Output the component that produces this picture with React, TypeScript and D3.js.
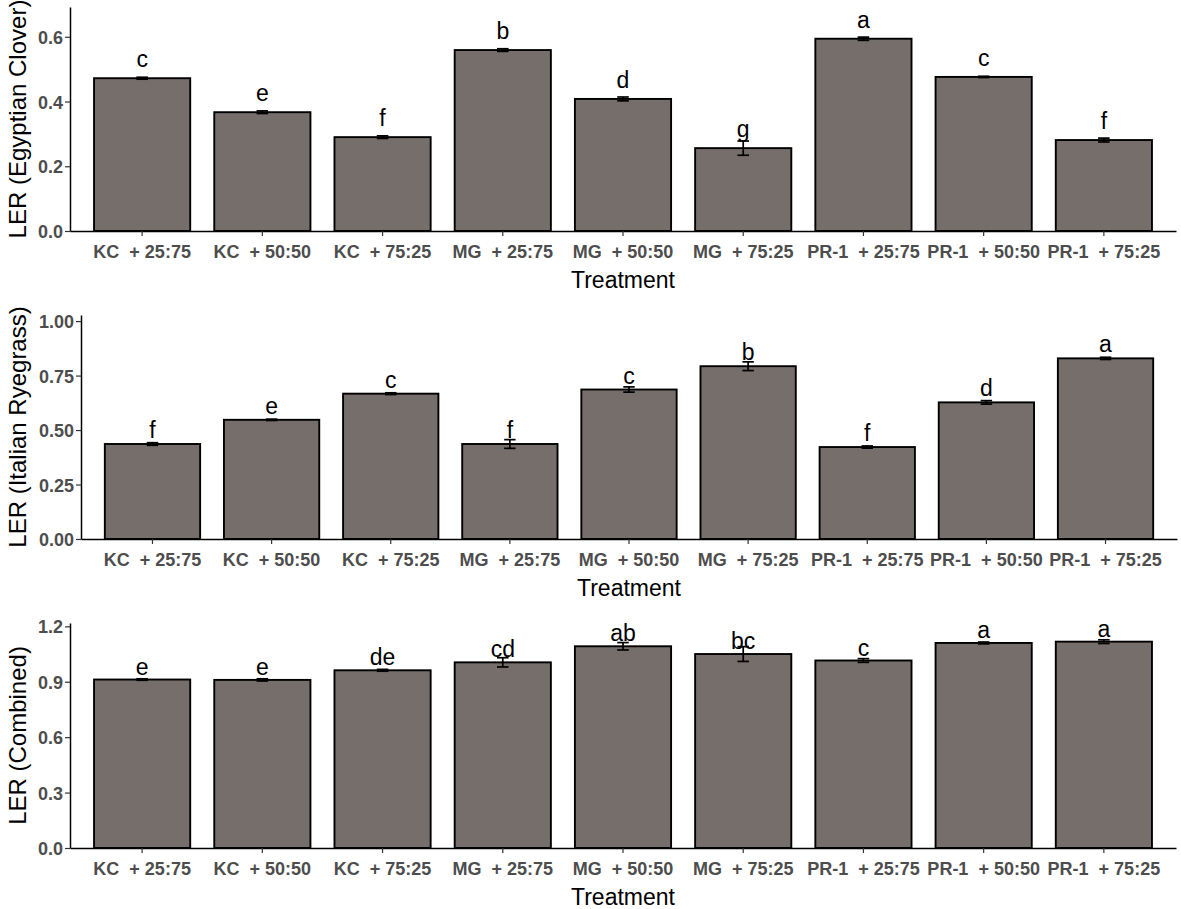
import React, { useEffect, useRef } from 'react';
import * as d3 from 'd3';

// Treatments (two spaces between crop and ratio, as in the original)
const treatments = [
    'KC  + 25:75', 'KC  + 50:50', 'KC  + 75:25',
    'MG  + 25:75', 'MG  + 50:50', 'MG  + 75:25',
    'PR-1  + 25:75', 'PR-1  + 50:50', 'PR-1  + 75:25',
];

// LER Egyptian clover
const clover = [0.472, 0.367, 0.290, 0.559, 0.408, 0.256, 0.594, 0.476, 0.281];
const cloverSe = [0.003, 0.004, 0.004, 0.004, 0.006, 0.022, 0.005, 0.002, 0.006];
const cloverLetters = ['c', 'e', 'f', 'b', 'd', 'g', 'a', 'c', 'f'];
const cloverTicks = [0, 0.2, 0.4, 0.6];

// LER Italian ryegrass
const ryegrass = [0.436, 0.547, 0.667, 0.436, 0.686, 0.793, 0.422, 0.627, 0.829];
const ryegrassSe = [0.006, 0.003, 0.004, 0.02, 0.012, 0.02, 0.005, 0.008, 0.005];
const ryegrassLetters = ['f', 'e', 'c', 'f', 'c', 'b', 'f', 'd', 'a'];
const ryegrassTicks = [0, 0.25, 0.5, 0.75, 1.0];

// LER combined
const combined = [0.912, 0.910, 0.962, 1.005, 1.092, 1.050, 1.015, 1.110, 1.117];
const combinedSe = [0.004, 0.006, 0.005, 0.025, 0.02, 0.04, 0.01, 0.005, 0.01];
const combinedLetters = ['e', 'e', 'de', 'cd', 'ab', 'bc', 'c', 'a', 'a'];
const combinedTicks = [0, 0.3, 0.6, 0.9, 1.2];

interface Panel {
    title: string;
    values: number[];
    se: number[];
    letters: string[];
    ticks: number[];
    fmt: string;
    yMax: number;
    top: number;
    bottom: number;
    left: number;
    right: number;
    labelGap: number;
}

const panels: Panel[] = [
    { title: 'LER (Egyptian Clover)', values: clover, se: cloverSe, letters: cloverLetters, ticks: cloverTicks, fmt: '.1f', yMax: 0.692, top: 7, bottom: 231, left: 70, right: 1176, labelGap: 11 },
    { title: 'LER (Italian Ryegrass)', values: ryegrass, se: ryegrassSe, letters: ryegrassLetters, ticks: ryegrassTicks, fmt: '.2f', yMax: 1.028, top: 315, bottom: 539, left: 81, right: 1177, labelGap: 6 },
    { title: 'LER (Combined)', values: combined, se: combinedSe, letters: combinedLetters, ticks: combinedTicks, fmt: '.1f', yMax: 1.218, top: 623, bottom: 848, left: 70, right: 1176, labelGap: 5 },
];

const FONT = '"Liberation Sans", Arial, sans-serif';

const App: React.FC = () => {
    const ref = useRef<SVGSVGElement>(null);

    useEffect(() => {
        const svg = d3.select(ref.current);
        svg.selectAll('*').remove();

        panels.forEach(p => {
            // ggplot: 0.6 de expansión a cada lado, barras de 0.8
            const x = d3.scaleBand<string>().domain(treatments).range([p.left, p.right]).paddingOuter(0.2).paddingInner(0.2);
            const y = d3.scaleLinear().domain([0, p.yMax]).range([p.bottom, p.top]);
            const bw = x.bandwidth();
            const g = svg.append('g');

            // barras
            g.selectAll('rect.bar')
                .data(p.values)
                .enter().append('rect')
                .attr('x', (_, i) => x(treatments[i]) as number)
                .attr('y', d => y(d))
                .attr('width', bw)
                .attr('height', d => y(0) - y(d))
                .attr('fill', '#766e6a')
                .attr('stroke', '#000')
                .attr('stroke-width', 1.9);

            // barras de error
            const cx = (i: number) => (x(treatments[i]) as number) + bw / 2;
            const ew = bw * 0.12;
            p.values.forEach((v, i) => {
                const lo = y(v - p.se[i]);
                const hi = y(v + p.se[i]);
                const eb = g.append('g').attr('stroke', '#000').attr('stroke-width', 1.7);
                eb.append('line').attr('x1', cx(i)).attr('x2', cx(i)).attr('y1', lo).attr('y2', hi);
                eb.append('line').attr('x1', cx(i) - ew / 2).attr('x2', cx(i) + ew / 2).attr('y1', lo).attr('y2', lo);
                eb.append('line').attr('x1', cx(i) - ew / 2).attr('x2', cx(i) + ew / 2).attr('y1', hi).attr('y2', hi);
            });

            // letras
            g.selectAll('text.letter')
                .data(p.letters)
                .enter().append('text')
                .attr('x', (_, i) => cx(i))
                .attr('y', (_, i) => y(p.values[i]) - p.labelGap)
                .attr('text-anchor', 'middle')
                .attr('font-family', FONT)
                .attr('font-size', 23)
                .attr('fill', '#000')
                .text(d => d);

            // eje X
            const xAxis = g.append('g').attr('transform', `translate(0,${p.bottom})`)
                .call(d3.axisBottom(x).tickSize(5).tickSizeOuter(0));
            xAxis.select('.domain').attr('stroke', '#000').attr('stroke-width', 1.5);
            xAxis.selectAll('.tick line').attr('stroke', '#333').attr('stroke-width', 1.2);
            xAxis.selectAll('.tick text')
                .attr('font-family', FONT)
                .attr('font-size', 18)
                .attr('font-weight', 'bold')
                .attr('fill', '#4d4d4d')
                .attr('dy', 0)
                .attr('y', 27)
                .style('white-space', 'pre');

            // eje Y
            const yAxis = g.append('g').attr('transform', `translate(${p.left},0)`)
                .call(d3.axisLeft(y).tickValues(p.ticks).tickFormat(d3.format(p.fmt) as any).tickSize(5).tickSizeOuter(0));
            yAxis.select('.domain').attr('stroke', '#000').attr('stroke-width', 1.5);
            yAxis.selectAll('.tick line').attr('stroke', '#333').attr('stroke-width', 1.2);
            yAxis.selectAll('.tick text')
                .attr('font-family', FONT)
                .attr('font-size', 18)
                .attr('font-weight', 'bold')
                .attr('fill', '#4d4d4d')
                .attr('x', -7)
                .attr('dy', '0.36em');

            // títulos
            g.append('text')
                .attr('x', (p.left + p.right) / 2)
                .attr('y', p.bottom + 57)
                .attr('text-anchor', 'middle')
                .attr('font-family', FONT)
                .attr('font-size', 23)
                .attr('fill', '#000')
                .text('Treatment');

            g.append('text')
                .attr('transform', `translate(26,${(p.top + p.bottom) / 2}) rotate(-90)`)
                .attr('text-anchor', 'middle')
                .attr('font-family', FONT)
                .attr('font-size', 24)
                .attr('fill', '#000')
                .text(p.title);
        });
    }, []);

    return <svg ref={ref} width={1181} height={909} style={{ position: 'absolute', left: 0, top: 0, background: '#fff' }}></svg>;
};

export default App;
